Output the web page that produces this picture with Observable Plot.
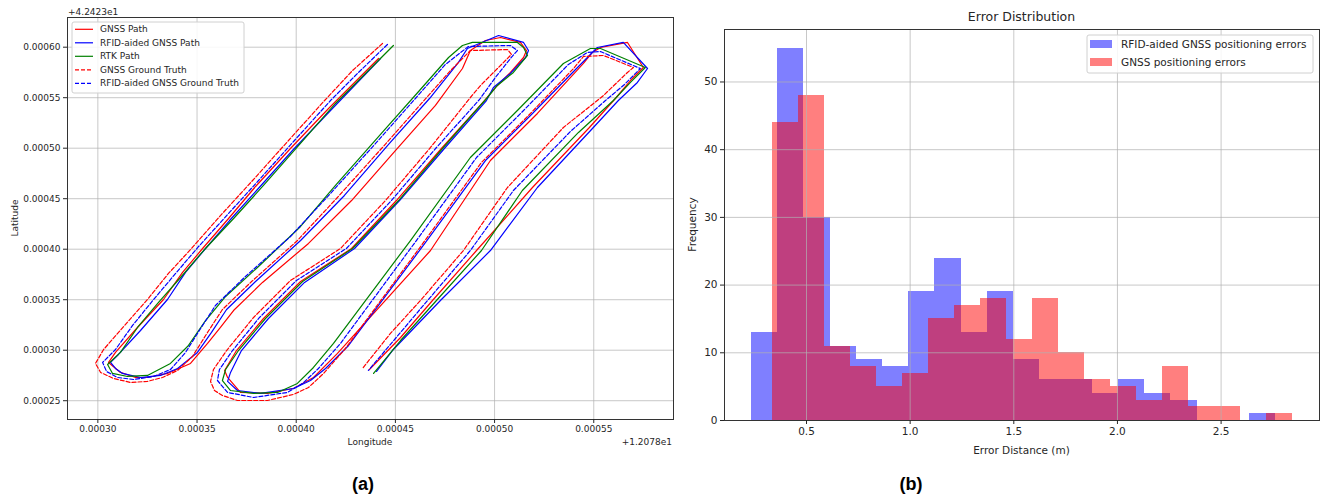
<!DOCTYPE html>
<html><head><meta charset="utf-8">
<script src="https://cdn.jsdelivr.net/npm/d3@7"></script>
<script src="https://cdn.jsdelivr.net/npm/@observablehq/plot@0.6"></script>
<style>
body{margin:0;background:#fff;}
#root{position:relative;width:1324px;height:495px;overflow:hidden;background:#fff;}
.panel{position:absolute;top:0;}
#overlay{position:absolute;left:0;top:0;pointer-events:none;}
</style></head>
<body><div id="root"><div id="pa" class="panel" style="left:0;width:680px"></div><div id="pb" class="panel" style="left:680px;width:644px"></div></div>
<script>
// ---------- Panel (a): trajectories (offsets from lon 120.78, lat 42.423) ----------
const gnssLon = [0.0004415,0.0004289,0.0004163,0.0003971,0.0003795,0.0003659,0.0003528,0.0003427,0.0003331,0.0003195,0.0003089,0.0003054,0.0003114,0.0003190,0.0003250,0.0003351,0.0003467,0.0003553,0.0003618,0.0003684,0.0003830,0.0004062,0.0004279,0.0004500,0.0004702,0.0004838,0.0004878,0.0004954,0.0005030,0.0005130,0.0005161,0.0005146,0.0005080,0.0005009,0.0004949,0.0004732,0.0004505,0.0004279,0.0004022,0.0003835,0.0003699,0.0003639,0.0003654,0.0003719,0.0003855,0.0003986,0.0004087,0.0004208,0.0004677,0.0004979,0.0005216,0.0005448,0.0005493,0.0005534,0.0005670,0.0005750,0.0005685,0.0005609,0.0005478,0.0005191,0.0004909,0.0004687,0.0004526,0.0004369];
const gnssLat = [0.0005888,0.0005641,0.0005393,0.0004997,0.0004621,0.0004304,0.0004007,0.0003770,0.0003502,0.0003215,0.0002978,0.0002879,0.0002780,0.0002730,0.0002730,0.0002770,0.0002869,0.0003067,0.0003225,0.0003393,0.0003671,0.0004057,0.0004482,0.0004977,0.0005423,0.0005789,0.0005967,0.0006066,0.0006096,0.0006047,0.0005967,0.0005898,0.0005750,0.0005611,0.0005472,0.0004997,0.0004482,0.0004007,0.0003680,0.0003314,0.0002997,0.0002799,0.0002730,0.0002582,0.0002572,0.0002621,0.0002730,0.0002968,0.0003987,0.0004878,0.0005344,0.0005839,0.0005948,0.0005997,0.0006047,0.0005799,0.0005670,0.0005492,0.0005205,0.0004611,0.0003987,0.0003492,0.0003126,0.0002809];

const rfidLon = [0.0004425,0.0004299,0.0004173,0.0003981,0.0003800,0.0003664,0.0003543,0.0003442,0.0003351,0.0003215,0.0003104,0.0003064,0.0003089,0.0003124,0.0003215,0.0003316,0.0003402,0.0003502,0.0003573,0.0003649,0.0003795,0.0004022,0.0004243,0.0004470,0.0004672,0.0004818,0.0004863,0.0005020,0.0005146,0.0005171,0.0005156,0.0005080,0.0004994,0.0004959,0.0004747,0.0004521,0.0004294,0.0004042,0.0003860,0.0003724,0.0003669,0.0003654,0.0003704,0.0003820,0.0003986,0.0004072,0.0004148,0.0004264,0.0004652,0.0004954,0.0005191,0.0005423,0.0005518,0.0005649,0.0005771,0.0005720,0.0005624,0.0005498,0.0005216,0.0004979,0.0004727,0.0004485,0.0004405];
const rfidLat = [0.0005888,0.0005631,0.0005373,0.0004977,0.0004581,0.0004284,0.0004007,0.0003770,0.0003502,0.0003195,0.0002958,0.0002879,0.0002819,0.0002770,0.0002730,0.0002750,0.0002819,0.0002978,0.0003176,0.0003403,0.0003680,0.0004086,0.0004532,0.0005047,0.0005492,0.0005849,0.0005987,0.0006116,0.0006047,0.0005967,0.0005898,0.0005740,0.0005601,0.0005472,0.0004997,0.0004482,0.0004007,0.0003671,0.0003314,0.0002997,0.0002780,0.0002691,0.0002601,0.0002572,0.0002621,0.0002700,0.0002819,0.0003047,0.0004067,0.0004878,0.0005344,0.0005809,0.0005997,0.0006047,0.0005789,0.0005651,0.0005472,0.0005205,0.0004611,0.0003987,0.0003492,0.0002997,0.0002790];

const rtkLon = [0.0004490,0.0004344,0.0004198,0.0004017,0.0003835,0.0003689,0.0003533,0.0003417,0.0003306,0.0003200,0.0003114,0.0003049,0.0003074,0.0003150,0.0003250,0.0003366,0.0003457,0.0003543,0.0003644,0.0003810,0.0004022,0.0004198,0.0004425,0.0004626,0.0004768,0.0004838,0.0004888,0.0005115,0.0005146,0.0005166,0.0005095,0.0005014,0.0004964,0.0004742,0.0004516,0.0004284,0.0004032,0.0003845,0.0003709,0.0003644,0.0003628,0.0003669,0.0003785,0.0003906,0.0004006,0.0004087,0.0004188,0.0004576,0.0004878,0.0005115,0.0005347,0.0005483,0.0005534,0.0005760,0.0005685,0.0005599,0.0005423,0.0005140,0.0004934,0.0004707,0.0004526,0.0004390];
const rtkLat = [0.0006017,0.0005730,0.0005443,0.0005037,0.0004631,0.0004314,0.0003987,0.0003720,0.0003473,0.0003225,0.0002978,0.0002859,0.0002770,0.0002740,0.0002750,0.0002869,0.0003047,0.0003294,0.0003532,0.0003829,0.0004225,0.0004631,0.0005136,0.0005581,0.0005898,0.0006017,0.0006047,0.0006047,0.0005997,0.0005918,0.0005750,0.0005621,0.0005502,0.0005007,0.0004482,0.0004007,0.0003680,0.0003314,0.0002997,0.0002809,0.0002700,0.0002601,0.0002572,0.0002582,0.0002671,0.0002829,0.0003067,0.0004086,0.0004908,0.0005373,0.0005839,0.0005987,0.0005987,0.0005799,0.0005651,0.0005472,0.0005156,0.0004581,0.0003987,0.0003492,0.0003096,0.0002770];

const gnssGtLon = [0.0004435,0.0004284,0.0004143,0.0003961,0.0003780,0.0003628,0.0003472,0.0003356,0.0003250,0.0003135,0.0003029,0.0002988,0.0003014,0.0003079,0.0003165,0.0003250,0.0003326,0.0003402,0.0003477,0.0003553,0.0003628,0.0003775,0.0004001,0.0004203,0.0004430,0.0004631,0.0004783,0.0004878,0.0005065,0.0005085,0.0005040,0.0004929,0.0004878,0.0004677,0.0004450,0.0004223,0.0003971,0.0003785,0.0003649,0.0003583,0.0003568,0.0003588,0.0003628,0.0003704,0.0003855,0.0003986,0.0004062,0.0004138,0.0004248,0.0004631,0.0004934,0.0005171,0.0005398,0.0005448,0.0005549,0.0005700,0.0005670,0.0005549,0.0005347,0.0005065,0.0004843,0.0004626,0.0004475,0.0004334];
const gnssGtLat = [0.0006037,0.0005769,0.0005472,0.0005076,0.0004680,0.0004354,0.0004007,0.0003760,0.0003502,0.0003245,0.0003007,0.0002869,0.0002780,0.0002720,0.0002681,0.0002691,0.0002730,0.0002800,0.0002938,0.0003176,0.0003403,0.0003680,0.0004076,0.0004502,0.0004997,0.0005443,0.0005779,0.0005967,0.0005977,0.0005928,0.0005839,0.0005621,0.0005502,0.0005007,0.0004482,0.0004007,0.0003690,0.0003324,0.0002997,0.0002809,0.0002690,0.0002601,0.0002552,0.0002502,0.0002502,0.0002562,0.0002631,0.0002770,0.0003017,0.0004037,0.0004859,0.0005324,0.0005789,0.0005908,0.0005918,0.0005799,0.0005750,0.0005522,0.0005205,0.0004611,0.0003987,0.0003492,0.0003166,0.0002819];

const rfidGtLon = [0.0004460,0.0004314,0.0004173,0.0003991,0.0003810,0.0003659,0.0003508,0.0003392,0.0003281,0.0003175,0.0003089,0.0003024,0.0003044,0.0003099,0.0003180,0.0003281,0.0003366,0.0003442,0.0003518,0.0003593,0.0003744,0.0003971,0.0004173,0.0004400,0.0004601,0.0004752,0.0004868,0.0005080,0.0005115,0.0005080,0.0005004,0.0004924,0.0004707,0.0004480,0.0004253,0.0004001,0.0003815,0.0003679,0.0003613,0.0003603,0.0003654,0.0003785,0.0003956,0.0004032,0.0004112,0.0004223,0.0004606,0.0004909,0.0005146,0.0005372,0.0005468,0.0005534,0.0005735,0.0005655,0.0005559,0.0005382,0.0005095,0.0004878,0.0004662,0.0004364];
const rfidGtLat = [0.0006027,0.0005750,0.0005472,0.0005076,0.0004680,0.0004354,0.0004027,0.0003760,0.0003502,0.0003245,0.0003007,0.0002879,0.0002789,0.0002730,0.0002710,0.0002740,0.0002809,0.0002978,0.0003215,0.0003443,0.0003730,0.0004126,0.0004552,0.0005047,0.0005492,0.0005829,0.0006007,0.0006017,0.0005967,0.0005888,0.0005700,0.0005482,0.0005007,0.0004482,0.0004007,0.0003690,0.0003324,0.0002997,0.0002809,0.0002700,0.0002582,0.0002532,0.0002582,0.0002671,0.0002819,0.0003067,0.0004086,0.0004908,0.0005373,0.0005829,0.0005948,0.0005957,0.0005789,0.0005631,0.0005472,0.0005165,0.0004581,0.0003987,0.0003492,0.0002800];

const lonTicks = [0.00030,0.00035,0.00040,0.00045,0.00050,0.00055];
const latTicks = [0.00025,0.00030,0.00035,0.00040,0.00045,0.00050,0.00055,0.00060];

// ---------- Panel (b): histogram ----------
const rfidErrEdges = [0.235,0.3614,0.4878,0.6142,0.7406,0.867,0.9934,1.1198,1.2462,1.3726,1.499,1.6254,1.7518,1.8782,2.0046,2.131,2.2574,2.3838,2.5102,2.6366,2.763];
const rfidErrCounts = [13,55,30,11,9,8,19,24,13,19,9,6,6,4,6,4,3,0,0,1];
const gnssErrEdges = [0.335,0.4604,0.5858,0.7113,0.8367,0.9621,1.0875,1.2129,1.3384,1.4638,1.5892,1.7146,1.84,1.9655,2.0909,2.2163,2.3417,2.4671,2.5926,2.718,2.8434];
const gnssErrCounts = [44,48,11,8,5,7,15,17,18,12,18,10,6,5,3,8,2,2,0,1];
const errTicks = [0.5,1.0,1.5,2.0,2.5];
const freqTicks = [0,10,20,30,40,50];

const pts = (lon, lat) => lon.map((x, i) => ({lon: x, lat: lat[i]}));
const bins = (edges, counts) => counts.map((c, i) => ({x1: edges[i], x2: edges[i + 1], n: c})).filter(d => d.n > 0);

const FONT = "'DejaVu Sans', sans-serif";
const GRID = {stroke: "#b0b0b0", strokeOpacity: 0.7, strokeWidth: 1};
const LINE = {x: "lon", y: "lat", strokeWidth: 1.2, curve: "linear"};

const plotA = Plot.plot({
  width: 680, height: 460,
  marginLeft: 67, marginRight: 7, marginTop: 17, marginBottom: 41,
  style: {fontFamily: FONT, fontSize: "9px", color: "#262626", background: "transparent"},
  x: {domain: [0.0002847, 0.0005902], label: null},
  y: {domain: [0.0002314, 0.0006294], label: null},
  marks: [
    Plot.gridX(lonTicks, GRID),
    Plot.gridY(latTicks, GRID),
    Plot.line(pts(gnssLon, gnssLat), {...LINE, stroke: "#ff0000"}),
    Plot.line(pts(rfidLon, rfidLat), {...LINE, stroke: "#0000ff"}),
    Plot.line(pts(rtkLon, rtkLat), {...LINE, stroke: "#008000"}),
    Plot.line(pts(gnssGtLon, gnssGtLat), {...LINE, stroke: "#ff0000", strokeDasharray: "4,2"}),
    Plot.line(pts(rfidGtLon, rfidGtLat), {...LINE, stroke: "#0000ff", strokeDasharray: "4,2"}),
    Plot.frame({stroke: "#333", strokeWidth: 1}),
    Plot.axisX(lonTicks, {tickFormat: d => d.toFixed(5), tickSize: 4, tickPadding: 2, fontSize: 9, label: null}),
    Plot.axisY(latTicks, {tickFormat: d => d.toFixed(5), tickSize: 4, tickPadding: 3, fontSize: 9, label: null})
  ]
});
document.getElementById("pa").appendChild(plotA);

const plotB = Plot.plot({
  width: 644, height: 460,
  marginLeft: 44, marginRight: 5, marginTop: 29, marginBottom: 40,
  style: {fontFamily: FONT, fontSize: "10.5px", color: "#262626", background: "transparent"},
  x: {domain: [0.1044, 2.9747], label: null},
  y: {domain: [0, 57.75], label: null},
  marks: [
    Plot.rectY(bins(rfidErrEdges, rfidErrCounts), {x1: "x1", x2: "x2", y: "n", fill: "#0000ff", fillOpacity: 0.5, inset: 0, shapeRendering: "crispEdges"}),
    Plot.rectY(bins(gnssErrEdges, gnssErrCounts), {x1: "x1", x2: "x2", y: "n", fill: "#ff0000", fillOpacity: 0.5, inset: 0, shapeRendering: "crispEdges"}),
    Plot.gridX(errTicks, GRID),
    Plot.gridY(freqTicks, GRID),
    Plot.frame({stroke: "#333", strokeWidth: 1}),
    Plot.axisX(errTicks, {tickFormat: d => d.toFixed(1), tickSize: 4, tickPadding: 3, fontSize: 10.5, label: null}),
    Plot.axisY(freqTicks, {tickFormat: d => String(d), tickSize: 4, tickPadding: 3, fontSize: 10.5, label: null})
  ]
});
document.getElementById("pb").appendChild(plotB);

// ---------- Overlay: legends, labels, titles ----------
const svg = d3.create("svg").attr("id", "overlay").attr("width", 1324).attr("height", 495)
  .style("font-family", FONT).attr("fill", "#262626");
const txt = (x, y, s, size, anchor = "start", extra = {}) => {
  const t = svg.append("text").attr("x", x).attr("y", y).attr("font-size", size)
    .attr("text-anchor", anchor).attr("dy", "0.35em").text(s);
  for (const k in extra) t.attr(k, extra[k]);
  return t;
};

// legend (a)
const legA = [
  {label: "GNSS Path", color: "#ff0000", dash: null},
  {label: "RFID-aided GNSS Path", color: "#0000ff", dash: null},
  {label: "RTK Path", color: "#008000", dash: null},
  {label: "GNSS Ground Truth", color: "#ff0000", dash: "4,2"},
  {label: "RFID-aided GNSS Ground Truth", color: "#0000ff", dash: "4,2"}
];
svg.append("rect").attr("x", 72).attr("y", 22).attr("width", 172).attr("height", 71).attr("rx", 2)
  .attr("fill", "#fff").attr("fill-opacity", 0.85).attr("stroke", "#d0d0d0");
legA.forEach((d, i) => {
  const y = 29.3 + i * 13.5;
  svg.append("line").attr("x1", 75).attr("x2", 93).attr("y1", y).attr("y2", y)
    .attr("stroke", d.color).attr("stroke-width", 1.2).attr("stroke-dasharray", d.dash);
  txt(100, y, d.label, 9);
});

// legend (b)
svg.append("rect").attr("x", 1087).attr("y", 35).attr("width", 226).attr("height", 38).attr("rx", 2)
  .attr("fill", "#fff").attr("fill-opacity", 0.85).attr("stroke", "#d0d0d0");
[{label: "RFID-aided GNSS positioning errors", color: "#0000ff"}, {label: "GNSS positioning errors", color: "#ff0000"}]
  .forEach((d, i) => {
    const y = 44 + i * 18;
    svg.append("rect").attr("x", 1090).attr("y", y - 4).attr("width", 22).attr("height", 8)
      .attr("fill", d.color).attr("fill-opacity", 0.5);
    txt(1121, y, d.label, 10.5);
  });

// axis labels, offsets, title
txt(68, 11.5, "+4.2423e1", 9);
txt(672, 442, "+1.2078e1", 9, "end");
txt(370, 442, "Longitude", 9, "middle");
txt(15, 218, "Latitude", 9, "middle", {transform: "rotate(-90 15 218)"});
txt(1021.5, 17, "Error Distribution", 12.5, "middle");
txt(1021.5, 450, "Error Distance (m)", 10.5, "middle");
txt(692, 224.5, "Frequency", 10.5, "middle", {transform: "rotate(-90 692 224.5)"});
txt(363, 484, "(a)", 18, "middle", {"font-weight": "bold", "font-family": "'Liberation Sans', Arial, sans-serif", fill: "#000"});
txt(911, 484, "(b)", 18, "middle", {"font-weight": "bold", "font-family": "'Liberation Sans', Arial, sans-serif", fill: "#000"});

document.getElementById("root").appendChild(svg.node());
</script>
</body></html>
